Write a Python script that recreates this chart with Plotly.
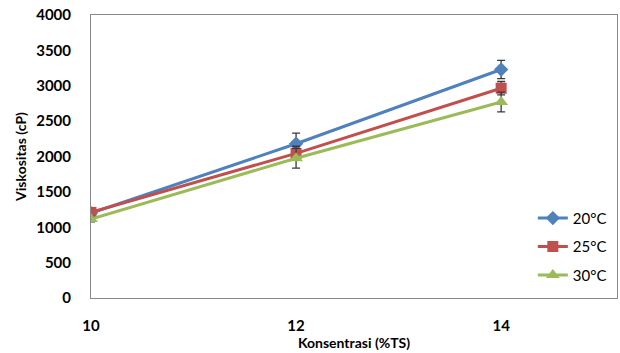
import plotly.graph_objects as go

# Viscosity vs. total-solids concentration at three temperatures
konsentrasi = [10, 12, 14]
x_ticks = [10, 12, 14]
y_ticks = [0, 500, 1000, 1500, 2000, 2500, 3000, 3500, 4000]

visk_20 = [1200, 2180, 3230]
err_20 = [40, 150, 130]
visk_25 = [1210, 2045, 2965]
err_25 = [35, 100, 95]
visk_30 = [1115, 1975, 2770]
err_30 = [40, 140, 140]

series = [
    ("20°C", visk_20, err_20, "#4F81BD", "diamond", 11),
    ("25°C", visk_25, err_25, "#C0504D", "square", 11),
    ("30°C", visk_30, err_30, "#9BBB59", "triangle-up", 12),
]

fig = go.Figure()
for i, (name, vals, err, color, symbol, size) in enumerate(series):
    fig.add_trace(go.Scatter(
        x=konsentrasi, y=vals, name=name, mode="lines+markers",
        line=dict(color=color, width=3),
        marker=dict(symbol=symbol, size=size, color=color),
        error_y=dict(type="data", array=err, visible=True,
                     color="#3a3a3a", thickness=1.3, width=4),
        legendgroup=f"g{i}",
    ))

axis_font = dict(family="Lato", size=15, color="#000000")
fig.update_layout(
    width=620, height=353,
    margin=dict(l=91, r=3, t=15, b=55),
    paper_bgcolor="white", plot_bgcolor="white",
    font=dict(family="Lato", color="#000000"),
    showlegend=True,
    legend=dict(
        x=0.84, y=0.34, xanchor="left", yanchor="top",
        font=dict(family="Lato", size=15, color="#000000"),
        bgcolor="rgba(0,0,0,0)", tracegroupgap=6,
        traceorder="grouped",
    ),
    xaxis=dict(
        range=[10, 15.13], tickvals=x_ticks, ticktext=[f"<b>{t}</b>" for t in x_ticks],
        tickfont=axis_font, showgrid=False, zeroline=False,
        showline=True, mirror=True, linecolor="#888888", linewidth=1,
        ticks="", ticklabelstandoff=14,
        title=dict(text="<b>Konsentrasi (%TS)</b>", font=dict(family="Lato", size=14), standoff=4),
    ),
    yaxis=dict(
        range=[0, 4000], tickvals=y_ticks, ticktext=[f"<b>{t}</b>" for t in y_ticks],
        tickfont=axis_font, showgrid=False, zeroline=False,
        showline=True, mirror=True, linecolor="#888888", linewidth=1,
        ticks="", ticklabelstandoff=16,
        title=dict(text="<b>Viskositas (cP)</b>", font=dict(family="Lato", size=14), standoff=6),
    ),
)

fig.write_html("out.html")
